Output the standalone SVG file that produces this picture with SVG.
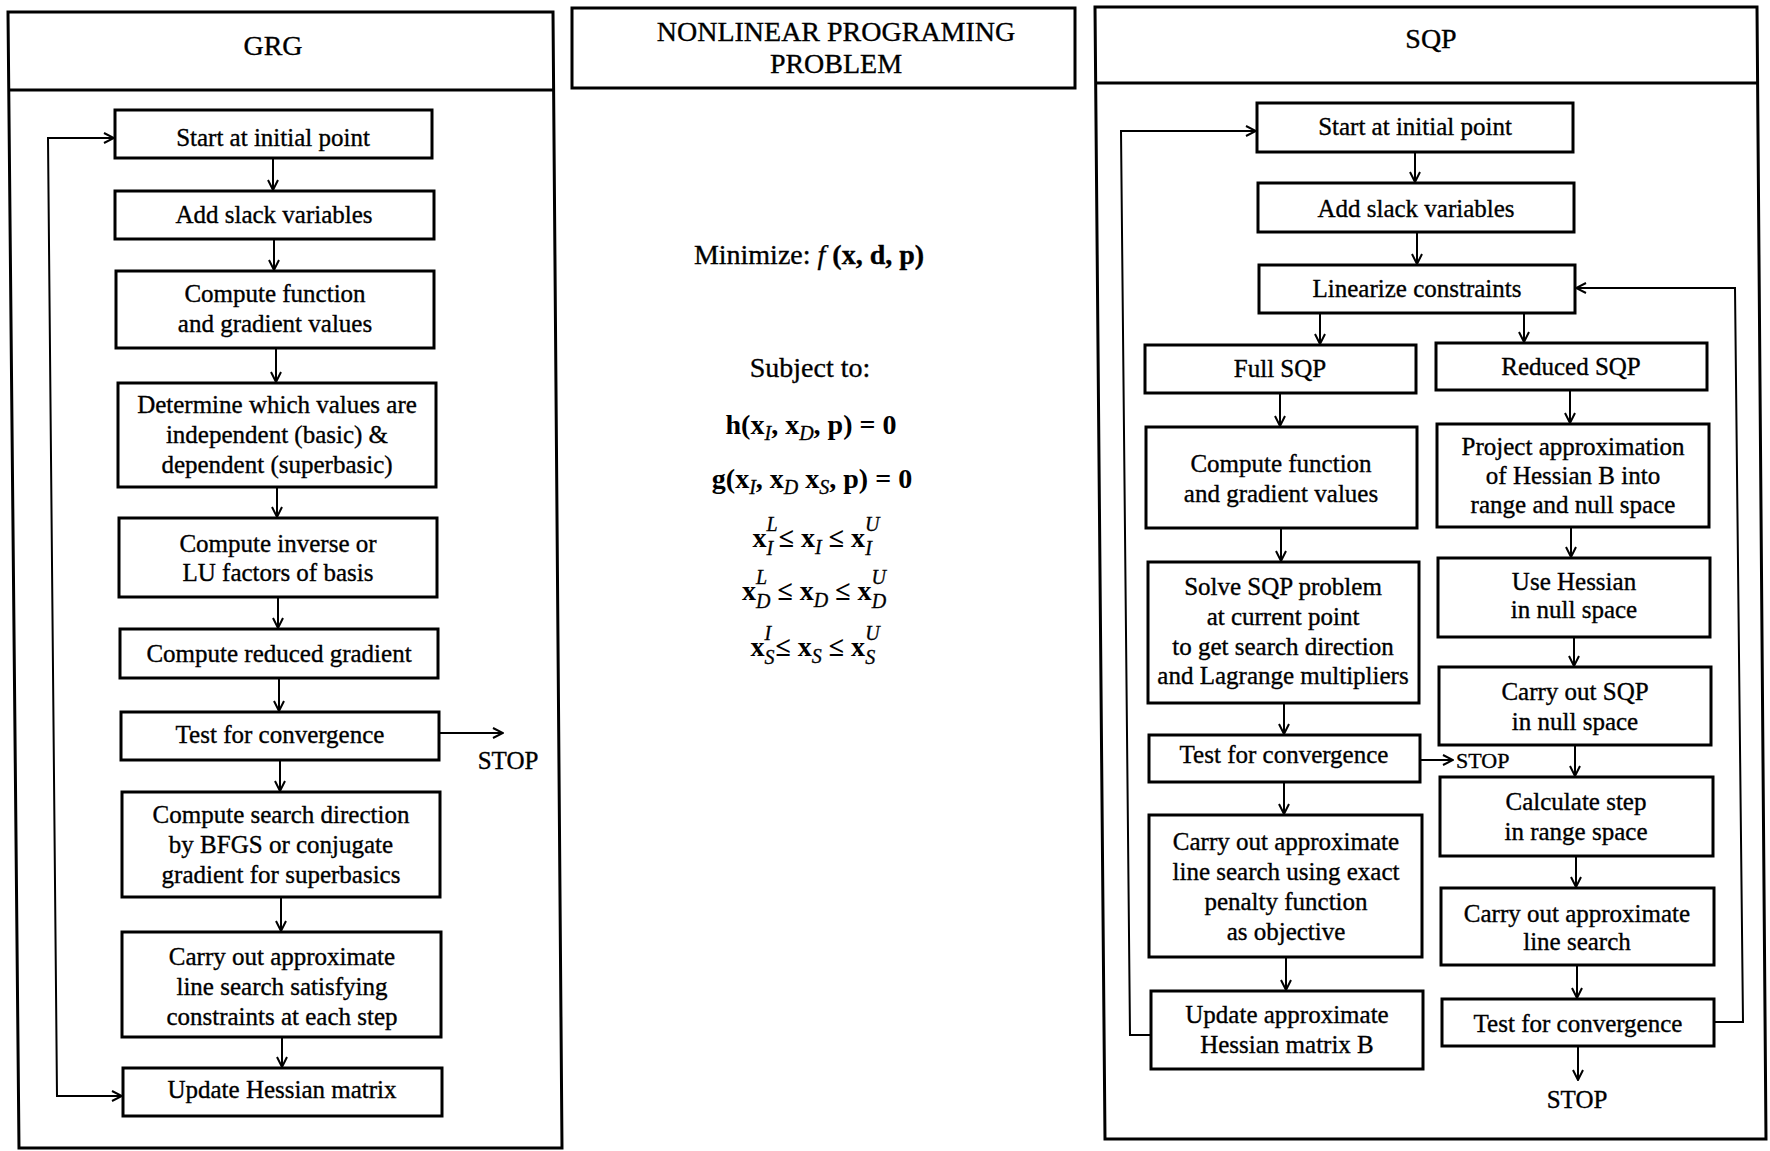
<svg xmlns="http://www.w3.org/2000/svg" width="1770" height="1151" viewBox="0 0 1770 1151">
<defs>
<style>
.panel{fill:none;stroke:#000;stroke-width:3}
.box{fill:#fff;stroke:#000;stroke-width:3}
.t{font-family:"Liberation Serif","Times New Roman",serif;font-size:25px;text-anchor:middle;fill:#000;stroke:#000;stroke-width:0.35}
.ttl{font-size:28px}
.s22{font-size:22px;text-anchor:start}
.r{font-family:"Liberation Serif","Times New Roman",serif;font-size:28px;text-anchor:middle;fill:#000;stroke:#000;stroke-width:0.35}
.m{font-family:"Liberation Serif","Times New Roman",serif;font-size:28px;font-weight:bold;text-anchor:middle;fill:#000}
.i{font-style:italic;font-weight:normal;font-size:20px;stroke:#000;stroke-width:0.3}
.c{fill:none;stroke:#000;stroke-width:2;marker-end:url(#ah)}
</style>
<marker id="ah" viewBox="0 0 12 12" refX="11" refY="6" markerWidth="12" markerHeight="12" markerUnits="userSpaceOnUse" orient="auto-start-reverse">
<path d="M1,1 L11,6 L1,11" fill="none" stroke="#000" stroke-width="2"/>
</marker>
</defs>
<rect width="1770" height="1151" fill="#fff"/>

<!-- Panels -->
<g id="grg-panel">
<polygon class="panel" points="8,12 553,12 562,1148 19,1148"/>
<line x1="9" y1="90" x2="554" y2="90" stroke="#000" stroke-width="3"/>
<text class="t ttl" x="273" y="55">GRG</text>
</g>
<g id="nlp-panel">
<rect class="panel" x="572" y="8" width="503" height="80"/>
<text class="t ttl" x="836" y="41">NONLINEAR PROGRAMING</text>
<text class="t ttl" x="836" y="73">PROBLEM</text>
</g>
<g id="sqp-panel">
<polygon class="panel" points="1095,7 1757,7 1766,1139 1105,1139"/>
<line x1="1095" y1="83" x2="1758" y2="83" stroke="#000" stroke-width="3"/>
<text class="t ttl" x="1431" y="48">SQP</text>
</g>

<!-- NLP formulation -->
<g id="nlp-formulation">
<text class="r" x="809" y="264">Minimize: <tspan font-style="italic">f</tspan> <tspan font-weight="bold">(x, d, p)</tspan></text>
<text class="r" x="810" y="377">Subject to:</text>
<text class="m" x="811" y="434">h(x<tspan class="i" dy="6">I</tspan><tspan dy="-6">, x</tspan><tspan class="i" dy="6">D</tspan><tspan dy="-6">, p) = 0</tspan></text>
<text class="m" x="812" y="488">g(x<tspan class="i" dy="6">I</tspan><tspan dy="-6">, x</tspan><tspan class="i" dy="6">D</tspan><tspan dy="-6"> x</tspan><tspan class="i" dy="6">S</tspan><tspan dy="-6">, p) = 0</tspan></text>
<text class="m" x="816" y="547">x<tspan class="i" dy="-16">L</tspan><tspan class="i" dx="-11.1" dy="24">I</tspan><tspan dx="5.5" dy="-8">≤ x</tspan><tspan class="i" dy="7">I</tspan><tspan dy="-7"> ≤ x</tspan><tspan class="i" dy="-16">U</tspan><tspan class="i" dx="-14.4" dy="24">I</tspan></text>
<text class="m" x="814" y="600">x<tspan class="i" dy="-16">L</tspan><tspan class="i" dx="-11.1" dy="24">D</tspan><tspan dy="-8"> ≤ x</tspan><tspan class="i" dy="7">D</tspan><tspan dy="-7"> ≤ x</tspan><tspan class="i" dy="-16">U</tspan><tspan class="i" dx="-14.4" dy="24">D</tspan></text>
<text class="m" x="815" y="656">x<tspan class="i" dy="-16">I</tspan><tspan class="i" dx="-6.7" dy="24">S</tspan><tspan dx="1" dy="-8">≤ x</tspan><tspan class="i" dy="7">S</tspan><tspan dy="-7"> ≤ x</tspan><tspan class="i" dy="-16">U</tspan><tspan class="i" dx="-14.4" dy="24">S</tspan></text>
</g>

<!-- GRG nodes -->
<g id="grg-start"><rect class="box" x="115" y="110" width="317" height="48"/><text class="t" x="273" y="146">Start at initial point</text></g>
<g id="grg-slack"><rect class="box" x="115" y="191" width="319" height="48"/><text class="t" x="274" y="223">Add slack variables</text></g>
<g id="grg-compute"><rect class="box" x="116" y="271" width="318" height="77"/><text class="t" x="275" y="302">Compute function</text><text class="t" x="275" y="332">and gradient values</text></g>
<g id="grg-determine"><rect class="box" x="118" y="383" width="318" height="104"/><text class="t" x="277" y="413">Determine which values are</text><text class="t" x="277" y="443">independent (basic) &amp;</text><text class="t" x="277" y="473">dependent (superbasic)</text></g>
<g id="grg-inverse"><rect class="box" x="119" y="518" width="318" height="79"/><text class="t" x="278" y="552">Compute inverse or</text><text class="t" x="278" y="581">LU factors of basis</text></g>
<g id="grg-reduced"><rect class="box" x="120" y="629" width="318" height="49"/><text class="t" x="279" y="662">Compute reduced gradient</text></g>
<g id="grg-test"><rect class="box" x="121" y="712" width="318" height="48"/><text class="t" x="280" y="743">Test for convergence</text></g>
<g id="grg-stop"><text class="t" x="508" y="769">STOP</text></g>
<g id="grg-search"><rect class="box" x="122" y="792" width="318" height="105"/><text class="t" x="281" y="823">Compute search direction</text><text class="t" x="281" y="853">by BFGS or conjugate</text><text class="t" x="281" y="883">gradient for superbasics</text></g>
<g id="grg-linesearch"><rect class="box" x="122" y="932" width="319" height="105"/><text class="t" x="282" y="965">Carry out approximate</text><text class="t" x="282" y="995">line search satisfying</text><text class="t" x="282" y="1025">constraints at each step</text></g>
<g id="grg-update"><rect class="box" x="123" y="1068" width="319" height="48"/><text class="t" x="282" y="1098">Update Hessian matrix</text></g>

<!-- SQP nodes -->
<g id="sqp-start"><rect class="box" x="1257" y="103" width="316" height="49"/><text class="t" x="1415" y="135">Start at initial point</text></g>
<g id="sqp-slack"><rect class="box" x="1258" y="183" width="316" height="49"/><text class="t" x="1416" y="217">Add slack variables</text></g>
<g id="sqp-linearize"><rect class="box" x="1259" y="265" width="316" height="48"/><text class="t" x="1417" y="297">Linearize constraints</text></g>
<g id="sqp-full"><rect class="box" x="1145" y="345" width="271" height="48"/><text class="t" x="1280" y="377">Full SQP</text></g>
<g id="sqp-reduced"><rect class="box" x="1436" y="343" width="271" height="47"/><text class="t" x="1571" y="375">Reduced SQP</text></g>
<g id="sqp-compute"><rect class="box" x="1146" y="427" width="271" height="101"/><text class="t" x="1281" y="472">Compute function</text><text class="t" x="1281" y="502">and gradient values</text></g>
<g id="sqp-solve"><rect class="box" x="1148" y="562" width="271" height="141"/><text class="t" x="1283" y="595">Solve SQP problem</text><text class="t" x="1283" y="625">at current point</text><text class="t" x="1283" y="655">to get search direction</text><text class="t" x="1283" y="684">and Lagrange multipliers</text></g>
<g id="sqp-test1"><rect class="box" x="1149" y="735" width="271" height="47"/><text class="t" x="1284" y="763">Test for convergence</text></g>
<g id="sqp-stop1"><text class="t s22" x="1456" y="768">STOP</text></g>
<g id="sqp-linesearch1"><rect class="box" x="1149" y="815" width="273" height="142"/><text class="t" x="1286" y="850">Carry out approximate</text><text class="t" x="1286" y="880">line search using exact</text><text class="t" x="1286" y="910">penalty function</text><text class="t" x="1286" y="940">as objective</text></g>
<g id="sqp-update"><rect class="box" x="1151" y="991" width="272" height="78"/><text class="t" x="1287" y="1023">Update approximate</text><text class="t" x="1287" y="1053">Hessian matrix B</text></g>
<g id="sqp-project"><rect class="box" x="1437" y="424" width="272" height="103"/><text class="t" x="1573" y="455">Project approximation</text><text class="t" x="1573" y="484">of Hessian B into</text><text class="t" x="1573" y="513">range and null space</text></g>
<g id="sqp-usehessian"><rect class="box" x="1438" y="558" width="272" height="79"/><text class="t" x="1574" y="590">Use Hessian</text><text class="t" x="1574" y="618">in null space</text></g>
<g id="sqp-nullsqp"><rect class="box" x="1439" y="667" width="272" height="78"/><text class="t" x="1575" y="700">Carry out SQP</text><text class="t" x="1575" y="730">in null space</text></g>
<g id="sqp-rangestep"><rect class="box" x="1440" y="777" width="273" height="79"/><text class="t" x="1576" y="810">Calculate step</text><text class="t" x="1576" y="840">in range space</text></g>
<g id="sqp-linesearch2"><rect class="box" x="1441" y="888" width="273" height="77"/><text class="t" x="1577" y="922">Carry out approximate</text><text class="t" x="1577" y="950">line search</text></g>
<g id="sqp-test2"><rect class="box" x="1442" y="999" width="272" height="47"/><text class="t" x="1578" y="1032">Test for convergence</text></g>
<g id="sqp-stop2"><text class="t" x="1577" y="1108">STOP</text></g>

<!-- Connectors -->
<g id="connectors">
<line class="c" x1="273" y1="158" x2="273" y2="190"/>
<line class="c" x1="274" y1="239" x2="274" y2="270"/>
<line class="c" x1="276" y1="348" x2="276" y2="382"/>
<line class="c" x1="277" y1="487" x2="277" y2="517"/>
<line class="c" x1="278" y1="597" x2="278" y2="628"/>
<line class="c" x1="279" y1="678" x2="279" y2="711"/>
<line class="c" x1="280" y1="760" x2="280" y2="791"/>
<line class="c" x1="281" y1="897" x2="281" y2="931"/>
<line class="c" x1="282" y1="1037" x2="282" y2="1067"/>
<line class="c" x1="439" y1="733" x2="503" y2="733"/>
<path class="c" d="M114,138 L48,138 L57,1096 L122,1096" marker-start="url(#ah)"/>

<line class="c" x1="1415" y1="152" x2="1415" y2="182"/>
<line class="c" x1="1417" y1="232" x2="1417" y2="264"/>
<line class="c" x1="1320" y1="313" x2="1320" y2="344"/>
<line class="c" x1="1524" y1="313" x2="1524" y2="342"/>
<line class="c" x1="1280" y1="393" x2="1280" y2="426"/>
<line class="c" x1="1281" y1="528" x2="1281" y2="561"/>
<line class="c" x1="1284" y1="703" x2="1284" y2="734"/>
<line class="c" x1="1284" y1="782" x2="1284" y2="814"/>
<line class="c" x1="1286" y1="957" x2="1286" y2="990"/>
<line class="c" x1="1420" y1="760" x2="1453" y2="760"/>
<line class="c" x1="1570" y1="390" x2="1570" y2="423"/>
<line class="c" x1="1571" y1="527" x2="1571" y2="557"/>
<line class="c" x1="1574" y1="637" x2="1574" y2="666"/>
<line class="c" x1="1575" y1="745" x2="1575" y2="776"/>
<line class="c" x1="1576" y1="856" x2="1576" y2="887"/>
<line class="c" x1="1577" y1="965" x2="1577" y2="998"/>
<line class="c" x1="1578" y1="1046" x2="1578" y2="1080"/>
<path class="c" d="M1151,1035 L1130,1035 L1121,131 L1256,131"/>
<path class="c" d="M1714,1022 L1743,1022 L1735,288 L1576,288"/>
</g>
</svg>
